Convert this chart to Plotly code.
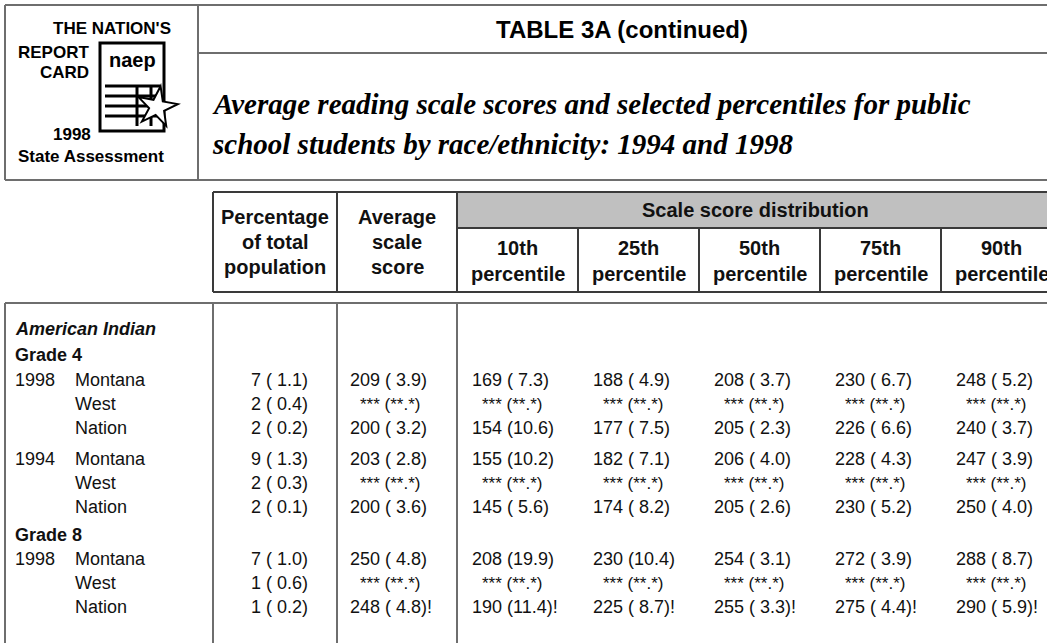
import math
import plotly.graph_objects as go

# Table data (NAEP 1998 reading, American Indian, Montana)
race = "American Indian"
grade_labels = ["Grade 4", "Grade 8"]
row_year = ["1998", "", "", "1994", "", "", "1998", "", ""]
row_place = ["Montana", "West", "Nation", "Montana", "West", "Nation", "Montana", "West", "Nation"]

pct = [7, 2, 2, 9, 2, 2, 7, 1, 1]
pct_se = [1.1, 0.4, 0.2, 1.3, 0.3, 0.1, 1.0, 0.6, 0.2]
avg = [209, None, 200, 203, None, 200, 250, None, 248]
avg_se = [3.9, None, 3.2, 2.8, None, 3.6, 4.8, None, 4.8]
p10 = [169, None, 154, 155, None, 145, 208, None, 190]
p10_se = [7.3, None, 10.6, 10.2, None, 5.6, 19.9, None, 11.4]
p25 = [188, None, 177, 182, None, 174, 230, None, 225]
p25_se = [4.9, None, 7.5, 7.1, None, 8.2, 10.4, None, 8.7]
p50 = [208, None, 205, 206, None, 205, 254, None, 255]
p50_se = [3.7, None, 2.3, 4.0, None, 2.6, 3.1, None, 3.3]
p75 = [230, None, 226, 228, None, 230, 272, None, 275]
p75_se = [6.7, None, 6.6, 4.3, None, 5.2, 3.9, None, 4.4]
p90 = [248, None, 240, 247, None, 250, 288, None, 290]
p90_se = [5.2, None, 3.7, 3.9, None, 4.0, 8.7, None, 5.9]
flagged = [False, False, False, False, False, False, False, False, True]

pct_headers = ["10th", "25th", "50th", "75th", "90th"]

W, H = 1047, 643
SANS = "Liberation Sans, Arial, sans-serif"
SERIF = "Liberation Serif, Times New Roman, serif"

# layout positions
row_y = [380, 404, 428, 459, 483, 507, 559, 583, 607]
grade_y = [355, 535]
col_x = [213, 337, 457, 578, 699, 820, 941, 1062]

fig = go.Figure()
# invisible trace so the pixel axes exist
fig.add_trace(go.Scatter(x=[0, W], y=[0, H], mode="markers",
                         marker=dict(opacity=0), hoverinfo="skip", showlegend=False))

shapes = []
ann = []


def line(x0, y0, x1, y1, color="#6e6e6e", width=2):
    shapes.append(dict(type="line", x0=x0, y0=y0, x1=x1, y1=y1,
                       line=dict(color=color, width=width), layer="above"))


def text(x, y, s, size=18, anchor="left", family=SANS, color="#111"):
    ann.append(dict(x=x, y=y, text=s, showarrow=False, xanchor=anchor, yanchor="middle",
                    font=dict(family=family, size=size, color=color)))


# ---- banner ----
line(5, 5, W + 5, 5)
line(5, 180, W + 5, 180)
line(5, 5, 5, 180)
line(198, 5, 198, 180)
line(198, 53, W + 5, 53)
text(622, 29, "<b>TABLE 3A (continued)</b>", size=24, anchor="center", color="#000")
text(210, 104, "<b><i>Average reading scale scores and selected percentiles for public</i></b>",
     size=29, family=SERIF, color="#000")
text(210, 144, "<b><i>school students by race/ethnicity: 1994 and 1998</i></b>",
     size=29, family=SERIF, color="#000")

# logo
text(173, 28, "<b>THE NATION'S</b>", size=17, anchor="right", color="#000")
text(91, 52, "<b>REPORT</b>", size=17, anchor="right", color="#000")
text(91, 72, "<b>CARD</b>", size=17, anchor="right", color="#000")
text(93, 134, "<b>1998</b>", size=17, anchor="right", color="#000")
text(16, 156, "<b>State Assessment</b>", size=17, anchor="left", color="#000")
shapes.append(dict(type="rect", x0=100, y0=43, x1=164, y1=131,
                   line=dict(color="#000", width=3), fillcolor="white"))
text(132, 60, "<b>naep</b>", size=20, anchor="center", color="#000")
for ly in [86, 96, 106, 116]:
    line(105, ly, 160, ly, color="#000", width=3)
line(137, 86, 137, 126, color="#000", width=3)
line(151, 86, 151, 126, color="#000", width=3)
cx, cy, ro, ri = 157, 107, 21, 8
pts = []
for k in range(10):
    r = ro if k % 2 == 0 else ri
    a = math.radians(-80 + 36 * k)
    pts.append((cx + r * math.cos(a), cy + r * math.sin(a)))
path = "M " + " L ".join(f"{px:.1f},{py:.1f}" for px, py in pts) + " Z"
shapes.append(dict(type="path", path=path, fillcolor="white",
                   line=dict(color="#000", width=2), layer="above"))

# ---- table header ----
shapes.append(dict(type="rect", x0=457, y0=192, x1=W + 20, y1=228,
                   fillcolor="#c0c0c0", line=dict(width=0)))
hc = "#3a3a3a"
line(213, 192, W + 5, 192, color=hc)
line(213, 292, W + 5, 292, color=hc)
line(457, 228, W + 5, 228, color=hc)
line(213, 192, 213, 292, color=hc)
line(337, 192, 337, 292, color=hc)
line(457, 192, 457, 292, color=hc)
for x in col_x[3:]:
    line(x, 228, x, 292, color=hc)

for i, s in enumerate(["Percentage", "of total", "population"]):
    text((col_x[0] + col_x[1]) / 2, 217 + 25 * i, f"<b>{s}</b>", size=20, anchor="center")
for i, s in enumerate(["Average", "scale", "score"]):
    text((col_x[1] + col_x[2]) / 2, 217 + 25 * i, f"<b>{s}</b>", size=20, anchor="center")
text(755, 210, "<b>Scale score distribution</b>", size=20, anchor="center")
for j, h in enumerate(pct_headers):
    xc = (col_x[2 + j] + col_x[3 + j]) / 2
    text(xc, 248, f"<b>{h}</b>", size=20, anchor="center")
    text(xc, 274, "<b>percentile</b>", size=20, anchor="center")

# ---- table body ----
bc = "#6e6e6e"
line(5, 303, W + 5, 303, color=bc)
for x in [5, 213, 337, 457]:
    line(x, 303, x, H + 5, color=bc)

text(13, 329, f"<b><i>{race}</i></b>", size=18)
for g, gy in zip(grade_labels, grade_y):
    text(13, gy, f"<b>{g}</b>", size=18)

for i, y in enumerate(row_y):
    if row_year[i]:
        text(13, y, row_year[i], size=18)
    text(73, y, row_place[i], size=18)
    text(310, y, f"{pct[i]} ({pct_se[i]:4.1f})", size=18, anchor="right")


def cell(x_left, v, se, flag, y):
    if v is None:
        text(x_left + 42, y, "*** (**.*)", size=17, anchor="center")
    else:
        s = f"{v} ({se:4.1f})"
        text(x_left, y, s + ("!" if flag else ""), size=18)


value_cols = [(avg, avg_se), (p10, p10_se), (p25, p25_se), (p50, p50_se), (p75, p75_se), (p90, p90_se)]
starts = [348, 470, 591, 712, 833, 954]
for (vals, ses), xs in zip(value_cols, starts):
    for i, y in enumerate(row_y):
        cell(xs, vals[i], ses[i], flagged[i], y)

fig.update_layout(
    width=W, height=H,
    margin=dict(l=0, r=0, t=0, b=0),
    paper_bgcolor="white", plot_bgcolor="white",
    xaxis=dict(range=[0, W], visible=False, fixedrange=True),
    yaxis=dict(range=[H, 0], visible=False, fixedrange=True),
    shapes=shapes, annotations=ann, showlegend=False,
)
fig.write_html("out.html", config=dict(displayModeBar=False),
               post_script="document.body.style.margin='0';")
